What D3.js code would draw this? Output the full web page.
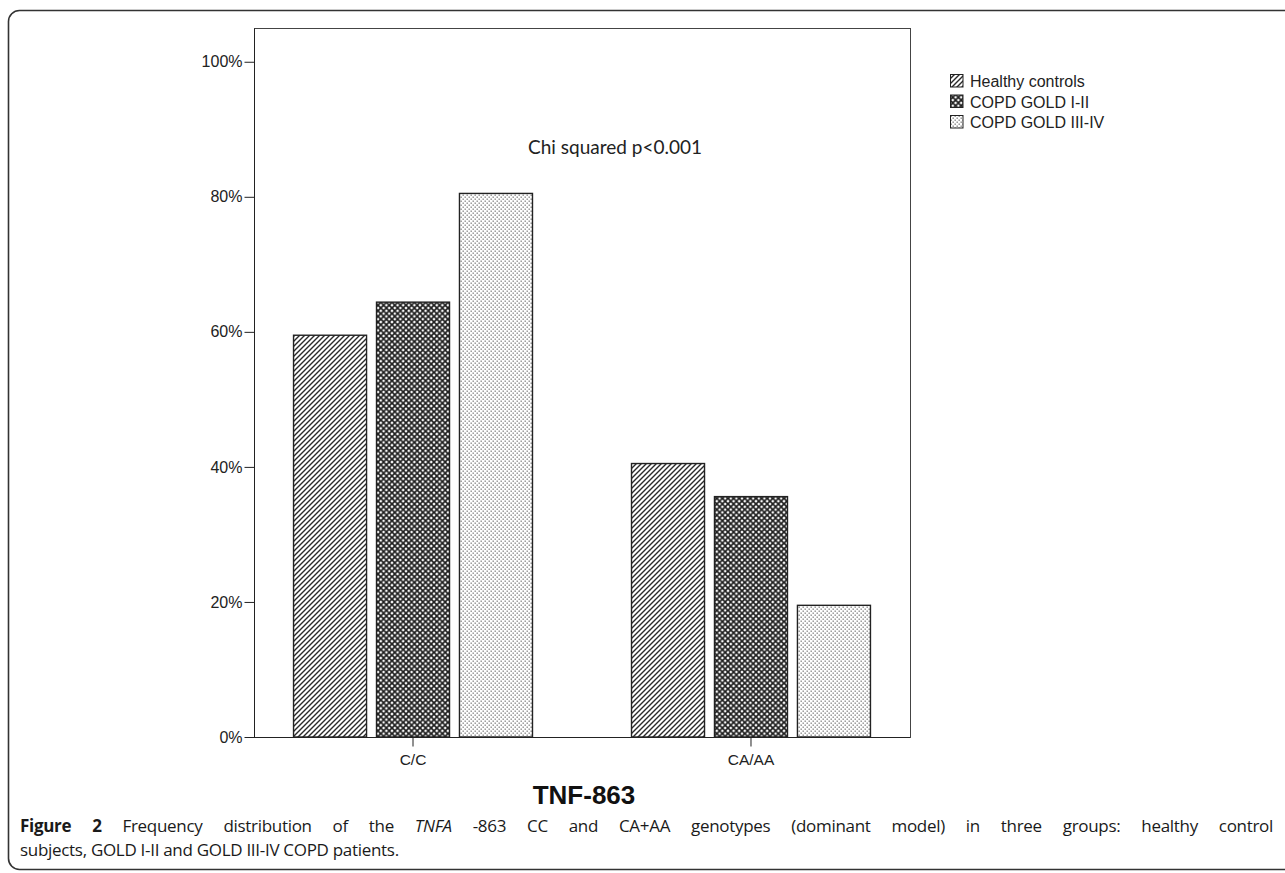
<!DOCTYPE html>
<html><head><meta charset="utf-8">
<script src="https://cdn.jsdelivr.net/npm/d3@7"></script>
<style>
body{margin:0;background:#fff;}
#wrap{position:relative;width:1285px;height:873px;overflow:hidden;background:#fff;}
svg{position:absolute;left:0;top:0;}
#cap{position:absolute;left:20px;top:814px;width:1253px;font-family:"Open Sans",sans-serif;font-size:17px;letter-spacing:-0.3px;line-height:24px;color:#1a1a1a;}
#cap .l1{text-align:justify;text-align-last:justify;white-space:nowrap;}
#cap b{font-weight:700;}
</style></head><body>
<div id="wrap"><svg id="chart" width="1285" height="873"></svg>
<div id="cap"><div class="l1"><b>Figure 2</b> Frequency distribution of the <i>TNFA</i> -863 CC and CA+AA genotypes (dominant model) in three groups: healthy control</div><div>subjects, GOLD I-II and GOLD III-IV COPD patients.</div></div></div>
<script>
const categories = ["C/C", "CA/AA"];
const groups = ["Healthy controls", "COPD GOLD I-II", "COPD GOLD III-IV"];
const healthyControls = [59.5, 40.5];
const copdGold12 = [64.4, 35.6];
const copdGold34 = [80.5, 19.5];
const yTicks = [0, 20, 40, 60, 80, 100];
const xTitle = "TNF-863";
const note = "Chi squared p<0.001";

const series = [healthyControls, copdGold12, copdGold34];
const svg = d3.select("#chart");

svg.append("rect").attr("x", 8.5).attr("y", 10.5).attr("width", 1320).attr("height", 859)
  .attr("rx", 11).attr("fill", "none").attr("stroke", "#333").attr("stroke-width", 1.6);

const defs = svg.append("defs");
const p1 = defs.append("pattern").attr("id", "pHealthy").attr("patternUnits", "userSpaceOnUse")
  .attr("width", 5).attr("height", 5);
p1.append("rect").attr("width", 5).attr("height", 5).attr("fill", "#fff");
p1.append("path").attr("d", "M-1,6 L6,-1 M-1,1 L1,-1 M4,6 L6,4").attr("stroke", "#2a2a2a").attr("stroke-width", 1.4);
const p2 = defs.append("pattern").attr("id", "pGold12").attr("patternUnits", "userSpaceOnUse")
  .attr("width", 5.6).attr("height", 5.6);
p2.append("rect").attr("width", 5.6).attr("height", 5.6).attr("fill", "#fff");
p2.append("path").attr("d", "M0,0 L5.6,5.6 M5.6,0 L0,5.6").attr("stroke", "#1e1e1e").attr("stroke-width", 1.7);
const p3 = defs.append("pattern").attr("id", "pGold34").attr("patternUnits", "userSpaceOnUse")
  .attr("width", 4).attr("height", 4);
p3.append("rect").attr("width", 4).attr("height", 4).attr("fill", "#fff");
p3.append("rect").attr("x", 0.5).attr("y", 0.5).attr("width", 1.4).attr("height", 1.4).attr("fill", "#8a8a8a");
p3.append("rect").attr("x", 2.5).attr("y", 2.5).attr("width", 1.4).attr("height", 1.4).attr("fill", "#8a8a8a");
const fills = ["url(#pHealthy)", "url(#pGold12)", "url(#pGold34)"];

const pLeft = 254, pRight = 910, pTop = 28, pBottom = 737;
const x0 = d3.scaleBand().domain(categories).range([pLeft, pRight]).paddingInner(0.293).paddingOuter(0.117);
const x1 = d3.scaleBand().domain(groups).range([0, x0.bandwidth()]).paddingInner(0.12).paddingOuter(0);
const y = d3.scaleLinear().domain([0, 105]).range([pBottom, pTop]);

svg.append("rect").attr("x", pLeft + 0.5).attr("y", pTop + 0.5).attr("width", pRight - pLeft)
  .attr("height", pBottom - pTop).attr("fill", "none").attr("stroke", "#444").attr("stroke-width", 1);

categories.forEach((c, ci) => {
  groups.forEach((g, gi) => {
    const v = series[gi][ci];
    svg.append("rect")
      .attr("x", x0(c) + x1(g)).attr("y", y(v))
      .attr("width", x1.bandwidth()).attr("height", y(0) - y(v))
      .attr("fill", fills[gi]).attr("stroke", "#222").attr("stroke-width", 1.4);
  });
});

const yAxis = d3.axisLeft(y).tickValues(yTicks).tickSize(10).tickFormat(d => d + "%");
const gy = svg.append("g").attr("transform", `translate(${pLeft + 0.5},0)`).call(yAxis);
gy.select(".domain").attr("d", `M0,${pTop + 0.5}V${pBottom + 0.5}`).attr("stroke", "#222");
gy.selectAll(".tick line").attr("stroke", "#222");
gy.selectAll(".tick text").attr("font-family", "Liberation Sans, Arial, sans-serif").attr("font-size", 16)
  .attr("fill", "#222").attr("x", -12);

const xAxis = d3.axisBottom(x0).tickSize(9).tickSizeOuter(0);
const gx = svg.append("g").attr("transform", `translate(0,${pBottom + 0.5})`).call(xAxis);
gx.select(".domain").attr("stroke", "#222").attr("d", `M${pLeft},0H${pRight}`);
gx.selectAll(".tick line").attr("stroke", "#222");
gx.selectAll(".tick text").attr("font-family", "Liberation Sans, Arial, sans-serif").attr("font-size", 15.5)
  .attr("fill", "#222").attr("y", 27).attr("dy", null);

svg.append("text").attr("x", (pLeft + pRight) / 2 + 2).attr("y", 804).attr("text-anchor", "middle")
  .attr("font-family", "Liberation Sans, Arial, sans-serif").attr("font-weight", "bold")
  .attr("font-size", 26).attr("fill", "#111").text(xTitle);

svg.append("text").attr("x", 702).attr("y", 154).attr("text-anchor", "end")
  .attr("font-family", "Lato, sans-serif").attr("font-size", 19).attr("fill", "#222").text(note);

const lg = svg.append("g").attr("transform", "translate(950,74)");
groups.forEach((g, i) => {
  const r = lg.append("g").attr("transform", `translate(0,${i * 20.5})`);
  r.append("rect").attr("x", 0.5).attr("y", 0.5).attr("width", 12.5).attr("height", 12.5)
    .attr("fill", fills[i]).attr("stroke", "#222").attr("stroke-width", 1);
  r.append("text").attr("x", 20).attr("y", 13).attr("font-family", "Liberation Sans, Arial, sans-serif")
    .attr("font-size", 16).attr("fill", "#222").text(g);
});
</script>
</body></html>
